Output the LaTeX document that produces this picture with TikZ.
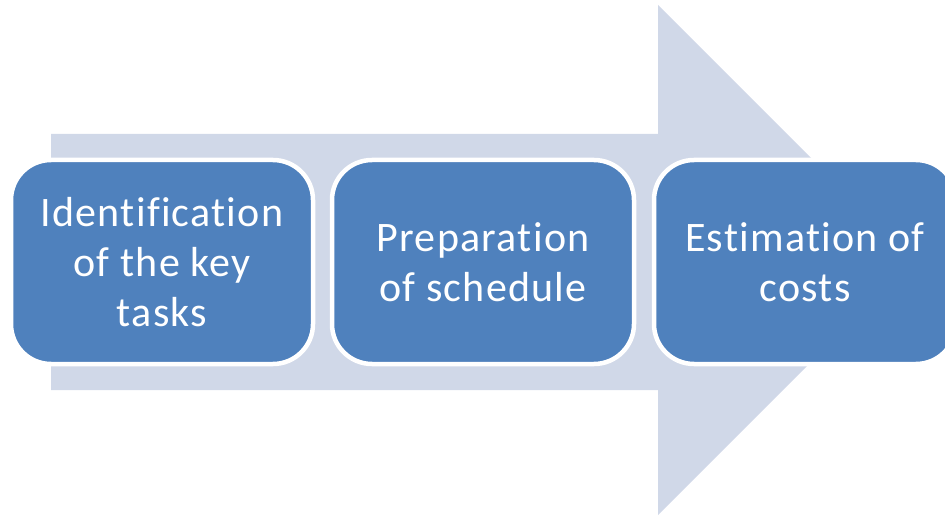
\documentclass[tikz,border=0pt]{standalone}
\usepackage{fontspec}
\setmainfont{Carlito}[Ligatures=NoCommon, LetterSpace=3]
\usepackage{xcolor}
\usepackage{tikz}
\definecolor{arrowfill}{HTML}{D0D8E8}
\definecolor{stepfill}{HTML}{4F81BD}

\begin{document}
\begin{tikzpicture}[x=1pt, y=1pt,
    stepbox/.style={rectangle, rounded corners=40pt, fill=stepfill, draw=white,
      line width=4.5pt, minimum width=302pt, minimum height=204pt,
      align=center, text=white, font=\fontsize{42}{50}\selectfont}]
        \useasboundingbox (0, 0) rectangle (945, 515);
        \clip (0, 0) rectangle (945, 515);

        % big background arrow
        \fill[arrowfill] (51, 381) -- (658, 381) -- (658, 510) -- (913, 255)
                         -- (658, 0) -- (658, 125) -- (51, 125) -- cycle;

        \node[stepbox](ident) at (162, 253) {Identification\\of the key\\tasks};
        \node[stepbox](sched) at (483, 253) {Preparation\\of schedule};
        \node[stepbox](costs) at (805, 253) {Estimation of\\costs};

      \end{tikzpicture}
\end{document}
